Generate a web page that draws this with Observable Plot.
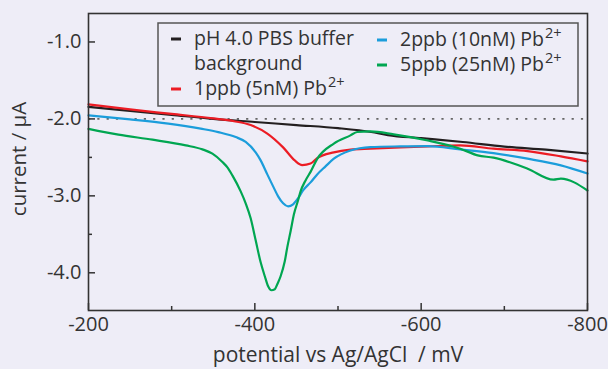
<!DOCTYPE html>
<html>
<head>
<meta charset="utf-8">
<script src="https://cdn.jsdelivr.net/npm/d3@7"></script>
<script src="https://cdn.jsdelivr.net/npm/@observablehq/plot@0.6"></script>
<style>
html, body { margin: 0; padding: 0; background: #eeedf7; }
#chart { width: 608px; height: 369px; }
</style>
</head>
<body>
<div id="chart"></div>
<script>
// ---- data (potential in mV, current in µA) ----
const bgPotential = [-200, -250, -300, -350, -400, -450, -500, -540, -560, -600, -650, -700, -750, -800];
const bgCurrent   = [-1.844, -1.896, -1.948, -2.0, -2.04, -2.08, -2.12, -2.17, -2.21, -2.25, -2.30, -2.36, -2.40, -2.45];

const p1Potential = [-200, -250, -300, -350, -375, -395, -415, -434, -448, -457, -467, -475, -495, -515, -539, -575, -608, -647, -687, -728, -768, -800];
const p1Current   = [-1.812, -1.877, -1.935, -1.994, -2.03, -2.08, -2.19, -2.37, -2.54, -2.60, -2.58, -2.51, -2.435, -2.40, -2.387, -2.37, -2.357, -2.344, -2.387, -2.418, -2.487, -2.552];

const p2Potential = [-200, -250, -296, -335, -356, -377, -389, -401, -407, -415, -422, -428, -434, -440, -446, -452, -458, -467, -475, -485, -495, -515, -539, -575, -608, -647, -687, -728, -768, -800];
const p2Current   = [-1.955, -2.006, -2.062, -2.127, -2.171, -2.236, -2.30, -2.435, -2.539, -2.721, -2.877, -3.006, -3.097, -3.136, -3.11, -3.032, -2.929, -2.825, -2.721, -2.617, -2.517, -2.41, -2.366, -2.357, -2.353, -2.396, -2.444, -2.517, -2.604, -2.71];

const p5Potential = [-200, -236, -277, -317, -337, -349, -361, -367, -373, -383, -389, -395, -401, -407, -412, -416, -420, -424, -427, -431, -436, -439, -443, -447, -452, -455, -461, -467, -475, -495, -515, -523, -539, -567, -608, -647, -668, -687, -728, -759, -768, -800];
const p5Current   = [-2.13, -2.205, -2.27, -2.344, -2.396, -2.452, -2.56, -2.63, -2.734, -2.942, -3.097, -3.292, -3.578, -3.864, -4.045, -4.175, -4.227, -4.214, -4.149, -4.045, -3.851, -3.669, -3.461, -3.24, -3.058, -2.942, -2.799, -2.688, -2.519, -2.32, -2.214, -2.17, -2.162, -2.20, -2.28, -2.387, -2.474, -2.504, -2.647, -2.79, -2.777, -2.93];

const seriesNames  = ["pH 4.0 PBS buffer", "1ppb (5nM) Pb", "2ppb (10nM) Pb", "5ppb (25nM) Pb"];
const seriesColors = ["#231f20", "#ec1c24", "#1b9ddb", "#00a651"];

const xMajorTicks = [-200, -400, -600, -800];
const xMinorTicks = [-300, -500, -700];
const yMajorTicks = [-1.0, -2.0, -3.0, -4.0];
const yMinorTicks = [-2.5, -3.5];
const baselineCurrent = [-2.0];

const yLabel = "current / µA";
const xLabel = "potential vs Ag/AgCl  / mV";

// ---- build tables ----
const zip = (xs, ys) => xs.map((x, i) => ({x, y: ys[i]}));
const series = [
  zip(bgPotential, bgCurrent),
  zip(p1Potential, p1Current),
  zip(p2Potential, p2Current),
  zip(p5Potential, p5Current)
];

const W = 608, H = 369, mL = 88, mR = 21, mT = 13, mB = 59;
const innerW = W - mL - mR, innerH = H - mT - mB;
const tickColor = "#333";

const chart = Plot.plot({
  width: W, height: H,
  marginLeft: mL, marginRight: mR, marginTop: mT, marginBottom: mB,
  style: {background: "#eeedf7", fontFamily: "'Open Sans', sans-serif", fontSize: "20px", color: "#333", overflow: "visible"},
  x: {domain: [-200, -800]},
  y: {domain: [-4.49, -0.63]},
  marks: [
    Plot.ruleY(baselineCurrent, {stroke: "#666", strokeWidth: 1.6, strokeDasharray: "2.2,7.1"}),
    ...series.map((d, i) => Plot.line(d, {x: "x", y: "y", stroke: seriesColors[i], strokeWidth: 2.2, curve: "monotone-x"})),
    Plot.frame({stroke: "#333", strokeWidth: 1.6}),
    Plot.tickX(xMajorTicks, {x: d => d, insetTop: innerH - 7, stroke: tickColor, strokeWidth: 1.5}),
    Plot.tickX(xMinorTicks, {x: d => d, insetTop: innerH - 4, stroke: tickColor, strokeWidth: 1.5}),
    Plot.tickY(yMajorTicks, {y: d => d, insetRight: innerW - 7, stroke: tickColor, strokeWidth: 1.5}),
    Plot.tickY(yMinorTicks, {y: d => d, insetRight: innerW - 4, stroke: tickColor, strokeWidth: 1.5}),
    Plot.axisX(xMajorTicks, {tickSize: 0, tickPadding: 6, tickFormat: d => String(d), label: null, fontSize: 20}),
    Plot.axisY(yMajorTicks, {tickSize: 0, tickPadding: 7, tickFormat: d => d.toFixed(1), label: null, fontSize: 20}),
    Plot.text([yLabel], {text: d => d, frameAnchor: "left", textAnchor: "middle", lineAnchor: "middle", rotate: -90, dx: -69, dy: -3, fontSize: 20.5, fill: "#333"}),
    Plot.text([xLabel], {text: d => d, frameAnchor: "bottom", lineAnchor: "bottom", dy: 51, fontSize: 21, fill: "#333"})
  ]
});

// ---- legend ----
const svg = d3.select(chart);
const lg = svg.append("g").attr("font-family", "'Open Sans', sans-serif").attr("font-size", 19.5)
  .attr("fill", "#333").attr("text-anchor", "start");
lg.append("rect").attr("x", 158).attr("y", 23).attr("width", 420).attr("height", 83)
  .attr("fill", "none").attr("stroke", "#555").attr("stroke-width", 1.5);
const legendPos = [
  {dx: 171, tx: 194, base: 45, sup: false, extra: "background"},
  {dx: 171, tx: 194, base: 95, sup: true},
  {dx: 377, tx: 400, base: 46, sup: true},
  {dx: 377, tx: 400, base: 71, sup: true}
];
legendPos.forEach((p, i) => {
  lg.append("line").attr("x1", p.dx).attr("x2", p.dx + 10).attr("y1", p.base - 6).attr("y2", p.base - 6)
    .attr("stroke", seriesColors[i]).attr("stroke-width", 3);
  const t = lg.append("text").attr("x", p.tx).attr("y", p.base);
  t.append("tspan").text(seriesNames[i]);
  if (p.sup) t.append("tspan").attr("font-size", 14.5).attr("dy", -8).attr("dx", 1).text("2+");
  if (p.extra) lg.append("text").attr("x", p.tx).attr("y", p.base + 25).text(p.extra);
});

document.getElementById("chart").appendChild(chart);
</script>
</body>
</html>
